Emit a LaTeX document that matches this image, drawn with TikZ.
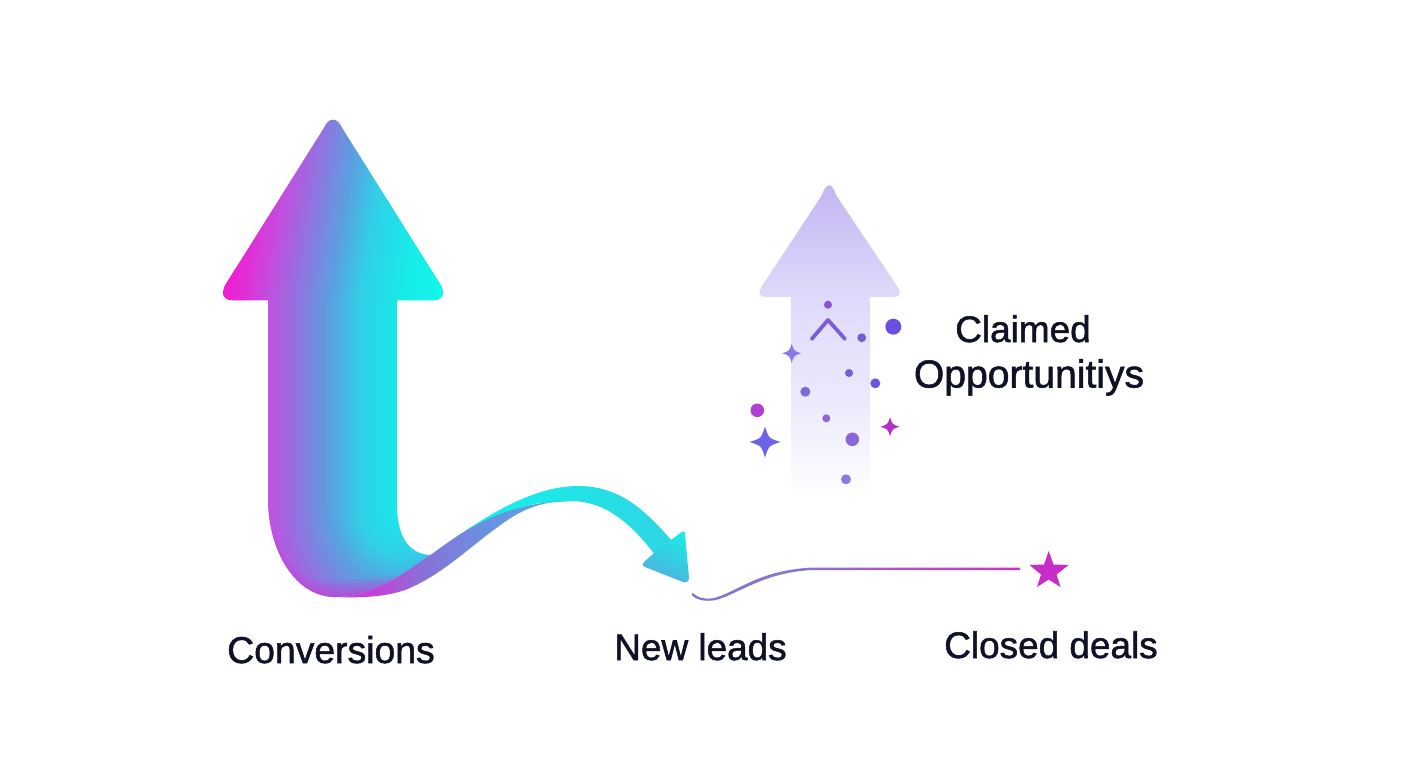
\documentclass[tikz,border=0pt]{standalone}
\usepackage{fontspec}
\setmainfont{Liberation Sans}
\newfontfamily\labfont[RawFeature={embolden=1.4}]{Liberation Sans}
\definecolor{ink}{HTML}{0F1226}
\definecolor{mA}{HTML}{F21CD2}\definecolor{mAb}{HTML}{E030D8}\definecolor{mB}{HTML}{C050E0}\definecolor{mC}{HTML}{8A78E0}
\definecolor{mD}{HTML}{5AA0E0}\definecolor{mE}{HTML}{30D0E8}\definecolor{mF}{HTML}{18EAE8}\definecolor{mG}{HTML}{10F8E8}
\pgfdeclarehorizontalshading{mainh}{100bp}{color(0bp)=(mA);color(25bp)=(mA);color(29.8bp)=(mAb);color(35.5bp)=(mB);color(42.7bp)=(mC);color(49.5bp)=(mD);color(56.4bp)=(mE);color(65.5bp)=(mF);color(75bp)=(mG);color(100bp)=(mG)}
\pgfdeclareradialshading{mainr}{\pgfpoint{0bp}{0bp}}{color(0bp)=(mF);color(5.6bp)=(mE);color(9.8bp)=(mD);color(14bp)=(mC);color(18.5bp)=(mB);color(25bp)=(mA);color(50bp)=(mA)}
\definecolor{bA}{HTML}{C83CD8}\definecolor{bB}{HTML}{8A70D8}\definecolor{bC}{HTML}{6A90E0}\definecolor{bD}{HTML}{50B0E0}
\pgfdeclarehorizontalshading{bandh}{100bp}{color(0bp)=(bA);color(25bp)=(bA);color(32bp)=(bA);color(42bp)=(bB);color(55bp)=(bC);color(75bp)=(bD);color(100bp)=(bD)}
\definecolor{rA}{HTML}{12F2E8}\definecolor{rB}{HTML}{30D4E4}
\pgfdeclarehorizontalshading{ribh}{100bp}{color(0bp)=(rA);color(25bp)=(rA);color(35bp)=(rA);color(75bp)=(rB);color(100bp)=(rB)}
\definecolor{hA}{HTML}{1CEAE4}\definecolor{hB}{HTML}{58A6E0}
\definecolor{lA}{HTML}{C4B6F2}\definecolor{lB}{HTML}{DFDAFA}\definecolor{lC}{HTML}{ECE9FC}
\pgfdeclareverticalshading{lightv}{100bp}{color(0bp)=(white);color(25bp)=(white);color(40.3bp)=(lC);color(56.5bp)=(lB);color(74bp)=(lA);color(100bp)=(lA)}
\definecolor{tA}{HTML}{7A78D0}\definecolor{tB}{HTML}{8878CC}\definecolor{tC}{HTML}{D030C0}
\pgfdeclarehorizontalshading{trailh}{100bp}{color(0bp)=(tA);color(25bp)=(tA);color(40bp)=(tB);color(75bp)=(tC);color(100bp)=(tC)}
\tikzset{
  lab/.style={font=\labfont\fontsize{27.7}{32}\selectfont,text=ink,inner sep=0pt,anchor=base},
}
\newcommand{\sparkle}[4]{\fill[#4] (#1,#2-#3) .. controls (#1+.24*#3,#2-.24*#3) .. (#1+#3,#2) .. controls (#1+.24*#3,#2+.24*#3) .. (#1,#2+#3) .. controls (#1-.24*#3,#2+.24*#3) .. (#1-#3,#2) .. controls (#1-.24*#3,#2-.24*#3) .. cycle;}
\newcommand{\mainshape}{(324,128) .. controls (329,117) and (337,117) .. (342,128) -- (440,284) .. controls (446,294) and (442,300) .. (434,300) -- (397,300) -- (397,505) .. controls (397,535) and (408,555) .. (432,555) .. controls (400,575) and (375,597) .. (335,597) .. controls (295,597) and (268,550) .. (268,500) -- (268,300) -- (232,300) .. controls (224,300) and (220,294) .. (226,284) -- cycle}
\newcommand{\upshaft}{(425,559) .. controls (470,527) and (525,486) .. (578,486) .. controls (620,486) and (645,510) .. (673,542) -- (656,556) .. controls (630,522) and (605,502) .. (573,501) -- (540,503) .. controls (500,510) and (470,528) .. (430,560) -- cycle}
\newcommand{\headshape}{(671,540) -- (681,532.5) .. controls (684,530.5) and (684.5,531) .. (685,534) -- (689,578) .. controls (689,582) and (686,583) .. (683,582) -- (645,567) .. controls (642,565.5) and (642,564) .. (644,562) -- (654,553) -- cycle}
\newcommand{\lowband}{(335,597) .. controls (375,597) and (400,575) .. (432,554) .. controls (462,532) and (505,500) .. (575,501) .. controls (530,500) and (510,518) .. (487,535) .. controls (455,560) and (435,578) .. (405,590) .. controls (385,597) and (360,598) .. (335,597) -- cycle}
\begin{document}
\begin{tikzpicture}[x=.75pt,y=-.75pt]
\useasboundingbox (0,0) rectangle (1408,768);
\fill[white] (0,0) rectangle (1408,768);
% big arrow
\begin{scope}
  \clip \mainshape;
  \fill[mA] (200,270) rectangle (250,302);
  \fill[mG] (420,270) rectangle (460,302);
  \foreach \yy in {116,118,...,300}{
    \pgfmathsetmacro{\ss}{.16*(300-\yy)}
    \shade[shading=mainh] (222+\ss,\yy) rectangle (442+\ss,\yy+3);
  }
  \begin{scope}
    \clip (200,300) rectangle (460,510.5);
    \shade[shading=mainh] (222,300) rectangle (442,510.5);
  \end{scope}
  \begin{scope}
    \clip (200,510) rectangle (460,610);
    \shade[shading=mainr] (400,510) ellipse (178 and 200);
  \end{scope}
  \foreach \wd in {30,23,16,10,5}{
    \draw[color=bA,opacity=.17,line width=\wd*.75pt] (248,500) .. controls (258,565) and (295,599) .. (335,597) -- (400,590);
  }
\end{scope}
% ribbon
\begin{scope}
  \clip \upshaft;
  \shade[shading=ribh] (420,470) rectangle (680,600);
\end{scope}
\begin{scope}
  \clip \headshape;
  \shade[top color=hA,bottom color=hB,shading angle=-25] (635,530) rectangle (695,590);
\end{scope}
\begin{scope}
  \clip \lowband;
  \shade[shading=bandh] (340,490) rectangle (580,600);
\end{scope}
% light arrow
\begin{scope}
  \clip (822,195) .. controls (826,182) and (832,182) .. (836,195) -- (897,286) .. controls (903,294) and (899,297) .. (893,297) -- (870,297) -- (870,497) -- (791,497) -- (791,297) -- (767,297) .. controls (760,297) and (757,294) .. (762,286) -- cycle;
  \shade[shading=lightv] (750,180) rectangle (910,497);
\end{scope}
% caret and dots
\draw[color={rgb,255:red,122;green,92;blue,216},line width=2.8pt,line cap=round,line join=round] (811.7,339) -- (828,320) -- (845,339);
\fill[color={rgb,255:red,138;green,80;blue,216}] (828,304.7) circle (4);
\fill[color={rgb,255:red,112;green,96;blue,216}] (861.7,337.7) circle (4.4);
\fill[color={rgb,255:red,106;green,80;blue,220}] (893.3,326.7) circle (8);
\fill[color={rgb,255:red,112;green,96;blue,216}] (849,373) circle (4);
\fill[color={rgb,255:red,106;green,88;blue,220}] (875.3,383.3) circle (5);
\fill[color={rgb,255:red,124;green,104;blue,216}] (805.3,391.7) circle (5);
\fill[color={rgb,255:red,176;green,64;blue,208}] (757.3,410.3) circle (6.8);
\fill[color={rgb,255:red,138;green,104;blue,216}] (826.3,418.3) circle (4);
\fill[color={rgb,255:red,138;green,104;blue,220}] (852.3,439.3) circle (6.8);
\fill[color={rgb,255:red,143;green,120;blue,224}] (846,479.3) circle (5);
\sparkle{791.7}{353.3}{9.5}{color={rgb,255:red,138;green,120;blue,232}}
\sparkle{765}{442}{15.5}{color={rgb,255:red,110;green,98;blue,232}}
\sparkle{890}{426.7}{9.5}{color={rgb,255:red,176;green,48;blue,200}}
% trail
\shade[shading=trailh] (692.5,593) .. controls (698,598) and (706,600) .. (716,597.5) .. controls (740,590) and (760,570) .. (813,567.5) -- (1020,567.5) -- (1020,570) -- (813,570) .. controls (765,572) and (740,593) .. (716,600) .. controls (705,602) and (696,600) .. (692,595) -- cycle;
% star
\fill[color={rgb,255:red,200;green,44;blue,200}] (1048.7,551) -- (1053.5,564.5) -- (1068.5,565) -- (1056.5,574.5) -- (1060.5,587) -- (1048.7,579.5) -- (1037,587) -- (1041,574.5) -- (1029.5,565) -- (1044,564.5) -- cycle;
% labels
\node[lab] (conv) at (331,663) {\fontsize{28}{32}\selectfont Conversions};
\node[lab] (leads) at (700.5,660) {New leads};
\node[lab] (deals) at (1051,658) {Closed deals};
\node[lab] (claim) at (1023,342) {Claimed};
\node[lab] (opp) at (1029,387.5) {\fontsize{29.3}{32}\selectfont Opportunitiys};
\end{tikzpicture}
\end{document}
